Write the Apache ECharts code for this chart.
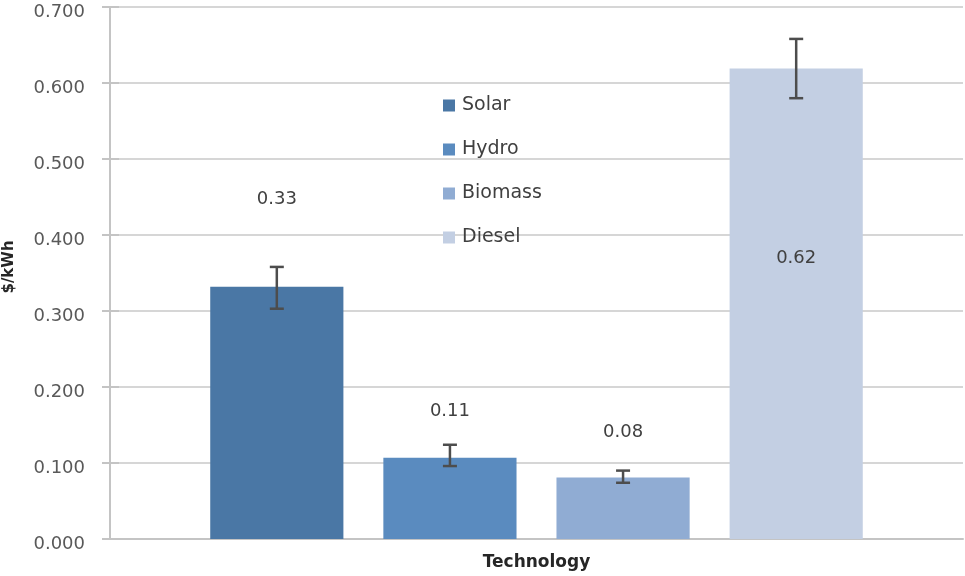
<!DOCTYPE html>
<html>
<head>
<meta charset="utf-8">
<script src="https://cdn.jsdelivr.net/npm/echarts@6/dist/echarts.min.js"></script>
<style>
html,body{margin:0;padding:0;background:#fff;}
#chart{width:965px;height:576px;}
</style>
</head>
<body>
<div id="chart"></div>
<script>
// ---- data ----
const categories = ['Technology'];
const seriesNames = ['Solar', 'Hydro', 'Biomass', 'Diesel'];
const values = [0.332, 0.107, 0.081, 0.619];
const labelTexts = ['0.33', '0.11', '0.08', '0.62'];
const errLow = [0.303, 0.096, 0.074, 0.580];
const errHigh = [0.358, 0.124, 0.090, 0.658];
const yMin = 0, yMax = 0.7, yInterval = 0.1;
const yAxisName = '$/kWh';

// ---- styles ----
const colors = ['#4a77a5', '#5a8bbf', '#90acd3', '#c3cfe3'];
const labelPos = ['top', 'top', 'top', 'inside'];
const labelOffset = [[0, -73], [0, -32], [0, -31], [0, -45]];
const BAR_GAP = '30%';
const BAR_CAT_GAP = '23.5%';
const FONT = '"DejaVu Sans", Verdana, sans-serif';
const AXIS_GRAY = '#c4c4c4';

const chart = echarts.init(document.getElementById('chart'));

const barSeries = seriesNames.map((name, i) => ({
  name: name,
  type: 'bar',
  data: [values[i]],
  barGap: BAR_GAP,
  barCategoryGap: BAR_CAT_GAP,
  itemStyle: { color: colors[i] },
  label: {
    show: true,
    position: labelPos[i],
    offset: labelOffset[i],
    formatter: () => labelTexts[i],
    color: '#404040',
    fontSize: 18,
    fontFamily: FONT
  },
  z: 2
}));

const errData = seriesNames.map((n, i) => [0, errLow[i], errHigh[i], i]);

const errSeries = {
  type: 'custom',
  name: 'err',
  data: errData,
  z: 10,
  silent: true,
  clip: false,
  encode: { x: 0, y: [1, 2] },
  renderItem: function (params, api) {
    const cat = api.value(0);
    const lo = api.value(1);
    const hi = api.value(2);
    const idx = api.value(3);
    const layout = api.barLayout({
      count: seriesNames.length,
      barGap: BAR_GAP,
      barCategoryGap: BAR_CAT_GAP
    });
    const pLo = api.coord([cat, lo]);
    const pHi = api.coord([cat, hi]);
    const x = pLo[0] + layout[idx].offsetCenter;
    const cap = 7;
    const style = { stroke: '#4d4d4d', lineWidth: 2.5, fill: null };
    return {
      type: 'group',
      children: [
        { type: 'line', shape: { x1: x, y1: pLo[1], x2: x, y2: pHi[1] }, style: style },
        { type: 'line', shape: { x1: x - cap, y1: pLo[1], x2: x + cap, y2: pLo[1] }, style: style },
        { type: 'line', shape: { x1: x - cap, y1: pHi[1], x2: x + cap, y2: pHi[1] }, style: style }
      ]
    };
  }
};

const option = {
  backgroundColor: '#ffffff',
  animation: false,
  grid: { left: 110, right: 2, top: 7, bottom: 37, containLabel: false, outerBoundsMode: 'none' },
  legend: {
    data: seriesNames,
    orient: 'vertical',
    left: 443,
    top: 96,
    padding: 0,
    icon: 'rect',
    itemWidth: 12,
    itemHeight: 12,
    itemGap: 25,
    textStyle: { color: '#404040', fontSize: 19, fontFamily: FONT, padding: [0, 0, 0, 2] }
  },
  xAxis: {
    type: 'category',
    data: categories,
    axisLine: { show: true, lineStyle: { color: AXIS_GRAY, width: 2 } },
    axisTick: { show: false },
    axisLabel: { color: '#262626', fontSize: 17, fontWeight: 'bold', fontFamily: FONT, margin: 15 }
  },
  yAxis: [{
    type: 'value',
    min: yMin,
    max: yMax,
    interval: yInterval,
    name: yAxisName,
    nameLocation: 'middle',
    nameGap: 93,
    nameTextStyle: { color: '#262626', fontSize: 15, fontWeight: 'bold', fontFamily: FONT, padding: [0, 0, 0, 12] },
    axisLine: { show: true, lineStyle: { color: AXIS_GRAY, width: 2 } },
    axisTick: { show: true, length: 8, lineStyle: { color: AXIS_GRAY, width: 2 } },
    axisLabel: {
      color: '#595959', fontSize: 18, fontFamily: FONT, margin: 25,
      verticalAlign: 'top',
      lineHeight: 11,
      formatter: v => v.toFixed(3)
    },
    splitLine: { show: true, lineStyle: { color: '#d6d6d6', width: 2 } }
  }, {
    type: 'value',
    min: yMin,
    max: yMax,
    interval: yInterval,
    position: 'left',
    axisLine: { show: false },
    axisTick: { show: true, inside: true, length: 9, lineStyle: { color: AXIS_GRAY, width: 2 } },
    axisLabel: { show: false },
    splitLine: { show: false }
  }],
  series: barSeries.concat([errSeries])
};

chart.setOption(option);
</script>
</body>
</html>
